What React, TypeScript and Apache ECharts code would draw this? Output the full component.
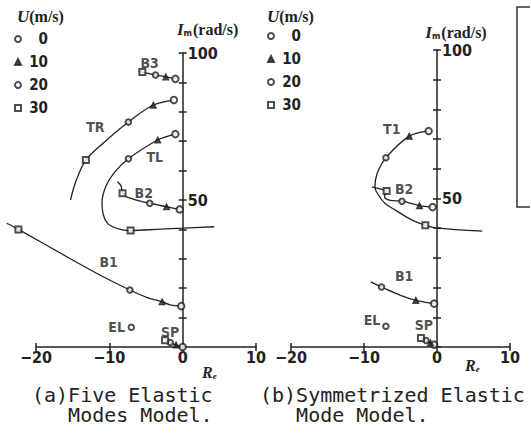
import React, { useEffect, useRef } from 'react';
import * as echarts from 'echarts';

// Root-locus points as [Re, Im (rad/s), U (m/s)]; U = null marks a plain trace point.
type Pt = [number, number, number | null];

// (a) Five elastic modes model
const a_B3: Pt[] = [[-6.0, 93.9, null], [-5.5, 93.5, 30], [-3.7, 92.5, 20], [-2.3, 91.9, 10], [-1.0, 91.2, 0]];
const a_TR: Pt[] = [[-1.2, 84.0, 0], [-4.0, 82.3, 10], [-7.4, 76.5, 20], [-10.8, 69.4, null], [-13.2, 63.6, 30], [-14.5, 56.8, null], [-15.3, 50.0, null]];
const a_TL: Pt[] = [[-1.0, 72.4, 0], [-3.4, 70.4, 10], [-7.4, 64.0, 20], [-9.3, 59.4, null], [-10.5, 54.5, null], [-11.0, 49.0, null], [-10.3, 42.2, null], [-8.2, 39.8, null], [-7.1, 39.6, 30], [-3.0, 40.1, null], [0.0, 40.4, null], [4.3, 40.9, null]];
const a_B2: Pt[] = [[-8.9, 56.2, null], [-8.4, 54.8, null], [-8.2, 52.3, 30], [-7.5, 50.9, null], [-4.5, 48.9, 20], [-2.2, 47.7, 10], [-0.4, 46.8, 0]];
const a_B1: Pt[] = [[-24.0, 42.1, null], [-22.4, 40.0, 30], [-15.8, 30.7, null], [-11.3, 24.5, null], [-7.2, 19.4, 20], [-4.9, 16.9, null], [-2.8, 15.4, 10], [-1.7, 14.3, null], [-0.2, 13.9, 0]];
const a_EL: Pt[] = [[-7.0, 6.7, 20]];
const a_SP: Pt[] = [[-2.4, 2.3, 30], [-1.7, 1.5, 20], [-0.9, 0.7, 10], [0.0, 0.0, 0]];
const a_labelNames = ['B3', 'TR', 'TL', 'B2', 'B1', 'EL', 'SP'];
const a_labelPos = [[-4.5, 96.6], [-11.9, 74.8], [-3.8, 64.6], [-5.3, 52.3], [-10.1, 28.9], [-9.0, 6.9], [-1.7, 5.2]];

// (b) Symmetrized elastic mode model
const b_T1: Pt[] = [[-1.15, 72.7, 0], [-3.8, 71.0, 10], [-7.0, 63.7, 20], [-8.2, 58.4, null], [-8.5, 53.9, null], [-8.0, 51.1, null], [-7.1, 48.3, null], [-5.7, 46.1, null], [-3.4, 42.7, null], [-1.6, 41.0, 30], [-0.2, 40.1, null], [6.2, 39.0, null]];
const b_B2: Pt[] = [[-8.9, 53.9, null], [-7.8, 53.2, null], [-6.9, 52.5, 30], [-7.2, 50.6, null], [-6.4, 49.4, null], [-4.8, 49.1, 20], [-2.4, 47.6, 10], [-0.6, 47.1, 0]];
const b_B1: Pt[] = [[-9.1, 21.9, null], [-7.6, 20.2, 20], [-5.0, 17.4, null], [-2.9, 15.7, 10], [-0.4, 14.6, 0]];
const b_EL: Pt[] = [[-7.0, 7.0, 20]];
const b_SP: Pt[] = [[-2.2, 3.0, 30], [-1.5, 2.2, 20], [-0.9, 1.4, 10], [-0.4, 0.8, 0], [0.0, 0.2, null]];
const b_labelNames = ['T1', 'B2', 'B1', 'EL', 'SP'];
const b_labelPos = [[-6.2, 73.3], [-4.5, 53.3], [-4.5, 24.0], [-8.9, 9.0], [-1.8, 7.3]];

// Legend speeds and axis ranges
const speeds = [0, 10, 20, 30];
const reRange = [-20, 10];
const imRange = [0, 100];
// curves may run a little past the drawn real axis
const reOverrun = 5;
const captions = ['(a)Five Elastic\n   Modes Model.', '(b)Symmetrized Elastic\n   Mode Model.'];

const INK = '#222';
const SANS = '"Liberation Sans Narrow", "DejaVu Sans Condensed", "Liberation Sans", sans-serif';
const SERIF = '"Liberation Serif", "DejaVu Serif", serif';
const MONO = '"DejaVu Sans Mono", "Liberation Mono", monospace';

const markerStyle: Record<number, { symbol: string; size: number }> = {
  0: { symbol: 'emptyCircle', size: 6.5 },
  10: { symbol: 'triangle', size: 6 },
  20: { symbol: 'emptyCircle', size: 5.5 },
  30: { symbol: 'emptyRect', size: 6 },
};

const panels = [
  { branches: [a_B3, a_TR, a_TL, a_B2, a_B1, a_EL, a_SP], labelNames: a_labelNames, labelPos: a_labelPos },
  { branches: [b_T1, b_B2, b_B1, b_EL, b_SP], labelNames: b_labelNames, labelPos: b_labelPos },
];

const grids = [
  { left: 36, top: 53, width: 220, height: 294 },
  { left: 291, top: 50, width: 219, height: 297 },
];
const layoutTweaks = [
  { imNameGap: 15, imNameShift: 50, reNameGap: -54, reNamePad: 17, legendLeft: 14, legendTop: 31, titleLeft: 17, capLeft: 32 },
  { imNameGap: 9, imNameShift: 38, reNameGap: -45, reNamePad: 10, legendLeft: 267, legendTop: 28, titleLeft: 267, capLeft: 260 },
];

function buildOption() {
  const xAxis: any[] = [];
  const yAxis: any[] = [];
  const series: any[] = [];
  const legend: any[] = [];
  const title: any[] = [];
  const grid: any[] = [];

  const tickStyle = { show: true, length: 4, lineStyle: { color: INK, width: 1.5 } };
  const lineStyle = { color: INK, width: 1.5 };

  // visible axis grids
  grids.forEach((g) => grid.push({ ...g, containLabel: false, outerBoundsMode: 'none' }));
  // plotting grids: same scale, widened on the left so curves are not cut at Re = -20
  grids.forEach((g) => {
    const pxPerUnit = g.width / (reRange[1] - reRange[0]);
    grid.push({
      left: g.left - reOverrun * pxPerUnit, top: g.top,
      width: g.width + reOverrun * pxPerUnit, height: g.height,
      containLabel: false, outerBoundsMode: 'none',
    });
  });

  panels.forEach((panel, p) => {
    const tw = layoutTweaks[p];
    const g = grids[p];
    const zeroOffset = -g.width * (0 - reRange[0]) / (reRange[1] - reRange[0]);
    const xMain = 3 * p;
    const yMain = 3 * p;
    const xPlot = 3 * p + 2;
    const yPlot = 3 * p + 2;

    // main real axis with labels, plus an overlay so ticks cross the line
    xAxis.push({
      type: 'value', gridIndex: p, min: reRange[0], max: reRange[1], interval: 10, position: 'bottom',
      axisLine: { show: true, onZero: false, lineStyle },
      axisTick: { ...tickStyle },
      splitLine: { show: false },
      axisLabel: {
        margin: 2, color: INK, fontFamily: SANS, fontWeight: 'bold', fontSize: 16,
        formatter: (v: number) => (v < 0 ? '\u2212' + Math.abs(v) : String(v)),
      },
      name: '{i|R}{s|e}', nameLocation: 'end', nameGap: tw.reNameGap,
      nameTextStyle: {
        align: 'left', verticalAlign: 'top', padding: [tw.reNamePad, 0, 0, 0],
        rich: {
          i: { fontFamily: SERIF, fontStyle: 'italic', fontWeight: 'bold', fontSize: 16, color: INK },
          s: { fontFamily: SERIF, fontStyle: 'italic', fontWeight: 'bold', fontSize: 9, color: INK, padding: [7, 0, 0, 0] },
        },
      },
    });
    xAxis.push({
      type: 'value', gridIndex: p, min: reRange[0], max: reRange[1], interval: 10, position: 'top',
      axisLine: { show: false, onZero: true, onZeroAxisIndex: yMain },
      axisTick: { ...tickStyle },
      splitLine: { show: false },
      axisLabel: { show: false },
    });
    xAxis.push({
      type: 'value', gridIndex: 2 + p, min: reRange[0] - reOverrun, max: reRange[1], show: false,
    });

    // imaginary axis drawn at Re = 0 (shifted from the grid's left edge)
    yAxis.push({
      type: 'value', gridIndex: p, min: imRange[0], max: imRange[1], interval: 10, position: 'left',
      offset: zeroOffset,
      axisLine: { show: true, onZero: false, lineStyle },
      axisTick: { ...tickStyle },
      splitLine: { show: false },
      axisLabel: {
        inside: true, margin: 5, color: INK, fontFamily: SANS, fontWeight: 'bold', fontSize: 16,
        formatter: (v: number) => (v > 0 && v % 50 === 0 ? String(v) : ''),
      },
      name: '{i|I}{s|m}{r|(rad/s)}', nameLocation: 'end', nameGap: tw.imNameGap,
      nameTextStyle: {
        align: 'center', verticalAlign: 'bottom', padding: [0, 0, 0, tw.imNameShift],
        rich: {
          i: { fontFamily: SERIF, fontStyle: 'italic', fontWeight: 'bold', fontSize: 17, color: INK },
          s: { fontFamily: SANS, fontWeight: 'bold', fontSize: 9, color: INK, padding: [6, 1, 0, 0] },
          r: { fontFamily: SERIF, fontWeight: 'bold', fontSize: 16, color: INK },
        },
      },
    });
    yAxis.push({
      type: 'value', gridIndex: p, min: imRange[0], max: imRange[1], interval: 10, position: 'right',
      axisLine: { show: false, onZero: true, onZeroAxisIndex: xMain },
      axisTick: { ...tickStyle },
      splitLine: { show: false },
      axisLabel: { show: false },
    });
    yAxis.push({
      type: 'value', gridIndex: 2 + p, min: imRange[0], max: imRange[1], show: false,
    });

    // locus curves
    panel.branches.forEach((br) => {
      if (br.length < 2) return;
      series.push({
        type: 'line', xAxisIndex: xPlot, yAxisIndex: yPlot, smooth: 0.35, symbol: 'none', clip: false,
        silent: true, z: 2,
        lineStyle: { color: INK, width: 1.3 },
        data: br.map((pt) => [pt[0], pt[1]]),
      });
    });

    // roots at each flight speed
    speeds.forEach((u) => {
      const pts: number[][] = [];
      panel.branches.forEach((br) => br.forEach((pt) => { if (pt[2] === u) pts.push([pt[0], pt[1]]); }));
      series.push({
        type: 'scatter', name: String(u), xAxisIndex: xPlot, yAxisIndex: yPlot, clip: false, z: 3,
        symbol: markerStyle[u].symbol, symbolSize: markerStyle[u].size,
        itemStyle: { color: INK, borderColor: INK, borderWidth: 1.2 },
        data: pts,
      });
    });

    // mode names
    series.push({
      type: 'scatter', xAxisIndex: xPlot, yAxisIndex: yPlot, symbolSize: 0, silent: true, z: 4,
      label: { show: true, position: 'inside', formatter: '{b}', color: INK, fontFamily: SANS, fontWeight: 'bold', fontSize: 14 },
      data: panel.labelNames.map((n, i) => ({ name: n, value: panel.labelPos[i] })),
    });

    legend.push({
      data: speeds.map(String), orient: 'vertical', left: tw.legendLeft, top: tw.legendTop,
      itemWidth: 6, itemHeight: 6, itemGap: 7, padding: 0, selectedMode: false,
      formatter: '{n|{name}}',
      textStyle: {
        color: INK, lineHeight: 16,
        rich: { n: { width: 22, align: 'right', fontFamily: SANS, fontWeight: 'bold', fontSize: 15, color: INK, lineHeight: 16 } },
      },
    });

    title.push({
      text: '{u|U}{p|(m/s)}', left: tw.titleLeft, top: 8, padding: 0,
      textStyle: {
        rich: {
          u: { fontFamily: SERIF, fontStyle: 'italic', fontWeight: 'bold', fontSize: 17, color: INK },
          p: { fontFamily: SERIF, fontWeight: 'bold', fontSize: 16, color: INK },
        },
      },
    });
    title.push({
      text: captions[p], left: tw.capLeft, top: 385, padding: 0,
      textStyle: { fontFamily: MONO, fontSize: 20, fontWeight: 'normal', lineHeight: 20, color: INK },
    });
  });

  return {
    animation: false,
    backgroundColor: '#fff',
    grid,
    xAxis,
    yAxis,
    legend,
    title,
    series,
    graphic: [
      // edge of the neighbouring panel's frame
      { type: 'rect', shape: { x: 517, y: 7, width: 40, height: 200 }, style: { fill: 'none', stroke: '#333', lineWidth: 1.5 }, silent: true },
    ],
  };
}

export default function App() {
  const ref = useRef<HTMLDivElement>(null);
  useEffect(() => {
    if (!ref.current) return;
    const chart = echarts.init(ref.current, undefined, { renderer: 'svg' });
    chart.setOption(buildOption() as any);
    return () => chart.dispose();
  }, []);
  return (
    <div
      ref={ref}
      style={{ position: 'fixed', left: 0, top: 0, width: 530, height: 430, background: '#fff' }}
    />
  );
}
